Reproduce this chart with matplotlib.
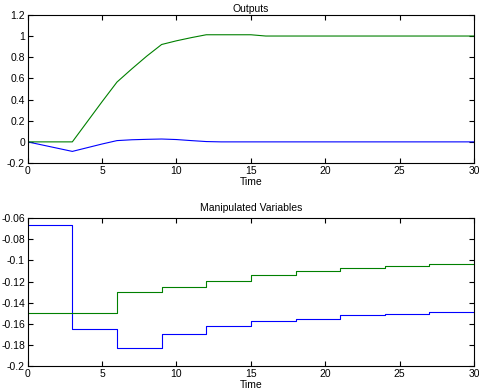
import matplotlib
matplotlib.use("Agg")
import matplotlib.pyplot as plt
import numpy as np

plt.rcParams['font.family'] = ['Liberation Sans', 'DejaVu Sans']
plt.rcParams['axes.unicode_minus'] = False

# Outputs (sampled at integer times)
t_out = list(range(0, 31))
y1_out = [0.0, -0.03, -0.06, -0.09, -0.055, -0.02, 0.012, 0.02, 0.024, 0.027, 0.022, 0.012, 0.003] + [0.0] * 18
y2_out = [0.0, 0.0, 0.0, 0.0, 0.19, 0.38, 0.565, 0.69, 0.81, 0.92, 0.955, 0.985, 1.012, 1.012, 1.012, 1.012] + [1.0] * 15

# Manipulated variables (piecewise constant, period 3)
t_mv = [0, 3, 6, 9, 12, 15, 18, 21, 24, 27, 30]
u1_mv = [-0.0666, -0.165, -0.183, -0.170, -0.1624, -0.1577, -0.155, -0.1521, -0.1504, -0.1491, -0.1491]
u2_mv = [-0.150, -0.150, -0.130, -0.1254, -0.1197, -0.1141, -0.1099, -0.1074, -0.1055, -0.1036, -0.1036]

top_yticks = [-0.2, 0, 0.2, 0.4, 0.6, 0.8, 1, 1.2]
top_ylabels = ['-0.2', '0', '0.2', '0.4', '0.6', '0.8', '1', '1.2']
bot_yticks = [-0.2, -0.18, -0.16, -0.14, -0.12, -0.1, -0.08, -0.06]
bot_ylabels = ['-0.2', '-0.18', '-0.16', '-0.14', '-0.12', '-0.1', '-0.08', '-0.06']
xticks = [0, 5, 10, 15, 20, 25, 30]

fig = plt.figure(figsize=(4.79, 3.91), dpi=100)
ax1 = fig.add_axes([0.0578, 0.583, 0.932, 0.379])
ax2 = fig.add_axes([0.0578, 0.0639, 0.932, 0.378])

BLUE = (0, 0, 1)
GREEN = (0, 0.5, 0)

ax1.plot(t_out, y1_out, color=BLUE, lw=0.8)
ax1.plot(t_out, y2_out, color=GREEN, lw=0.8)
ax1.set_xlim(0, 30)
ax1.set_ylim(-0.2, 1.2)
ax1.set_yticks(top_yticks)
ax1.set_yticklabels(top_ylabels)
ax1.set_title('Outputs', fontsize=7.5, pad=2)

ax2.step(t_mv, u1_mv, where='post', color=BLUE, lw=0.8)
ax2.step(t_mv, u2_mv, where='post', color=GREEN, lw=0.8)
ax2.set_xlim(0, 30)
ax2.set_ylim(-0.2, -0.06)
ax2.set_yticks(bot_yticks)
ax2.set_yticklabels(bot_ylabels)
ax2.set_title('Manipulated Variables', fontsize=7.5, pad=5)

for ax in (ax1, ax2):
    ax.set_xticks(xticks)
    ax.set_xticklabels([str(x) for x in xticks])
    ax.set_xlabel('Time', fontsize=7.5, labelpad=1)
    ax.tick_params(direction='in', top=True, right=True, length=3.5, width=0.8,
                   labelsize=7.5, pad=2)
    for s in ax.spines.values():
        s.set_linewidth(0.8)

fig.savefig('out.png', dpi=100)
